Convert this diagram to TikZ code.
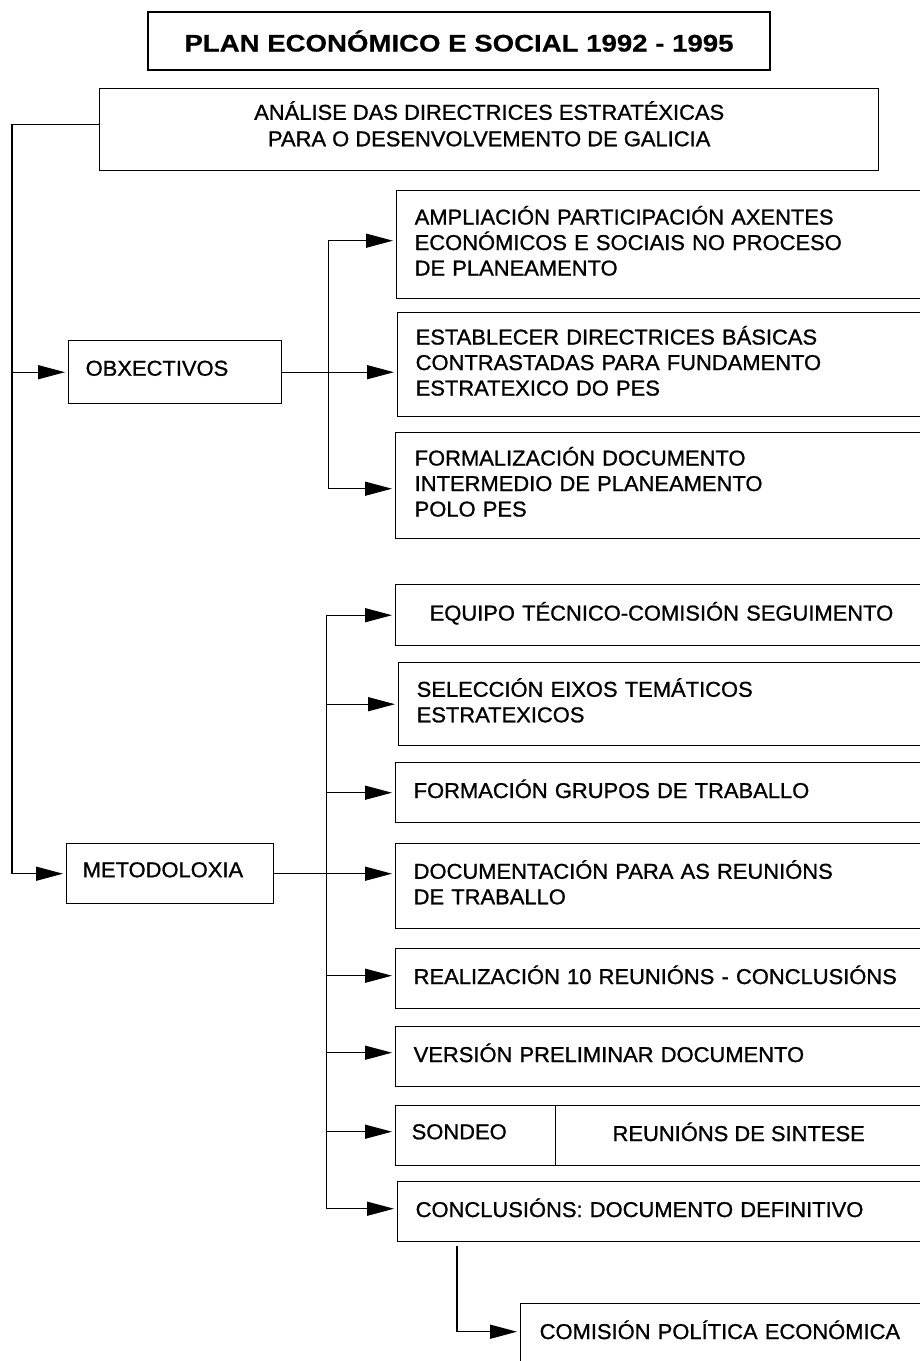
\documentclass[tikz,border=0pt]{standalone}
\usepackage{fontspec}
\setmainfont{Liberation Sans}
\newfontfamily\bodyf{Liberation Sans}[FakeStretch=1.02,FakeBold=1]
\newfontfamily\titf{Liberation Sans Bold}[FakeStretch=1.15,FakeBold=0.6]
\usetikzlibrary{arrows.meta}
\newcommand\lowr[1]{\rule[-#1pt]{0pt}{1pt}}
\tikzset{
  ln/.style={line width=1.4pt},
  arr/.style={ln, shorten >=3pt, -{Triangle[length=27pt,width=14pt]}},
  txt/.style={font=\bodyf\fontsize{21.5}{25.5}\selectfont},
  bx/.style={draw, ln, txt, anchor=north west, align=left, inner ysep=0pt},
}
\newcommand\mybox[7][18]{%
  \pgfmathsetmacro\bw{#5-#3}\pgfmathsetmacro\bh{#6-#4}\pgfmathsetmacro\tw{#5-#3-2*#1}%
  \node[bx, inner xsep=#1pt, minimum width=\bw pt, minimum height=\bh pt, text width=\tw pt] (#2) at (#3,#4) {#7\lowr{8}};}
\begin{document}
\begin{tikzpicture}[x=1pt,y=-1pt]
\useasboundingbox (0,0) rectangle (920,1361);
\clip (0,0) rectangle (920,1361);
\fill[white] (0,0) rectangle (920,1361);
% title
\node[draw, ln, minimum width=622pt, minimum height=58pt, inner sep=0pt,
  font=\titf\fontsize{24}{28}\selectfont] (title) at (459,41) {PLAN ECONÓMICO E SOCIAL 1992 - 1995};
% analysis box
\node[draw, ln, anchor=north west, minimum width=779pt, minimum height=82pt, inner sep=0pt, align=center,
  font=\bodyf\fontsize{21.5}{26.5}\selectfont] (ana) at (99,88) {ANÁLISE DAS DIRECTRICES ESTRATÉXICAS\\PARA O DESENVOLVEMENTO DE GALICIA\lowr{12}};
% left column
\mybox[17]{obx}{68}{340}{281}{403}{OBXECTIVOS}
\mybox[16]{meto}{66}{843}{273}{903}{METODOLOXIA}
% objectives
\mybox{a1}{396}{190}{940}{298}{AMPLIACIÓN PARTICIPACIÓN AXENTES\\ECONÓMICOS E SOCIAIS NO PROCESO\\DE PLANEAMENTO}
\mybox{a2}{397}{312}{940}{416}{ESTABLECER DIRECTRICES BÁSICAS\\CONTRASTADAS PARA FUNDAMENTO\\ESTRATEXICO DO PES}
\mybox[19]{a3}{395}{432}{940}{538}{FORMALIZACIÓN DOCUMENTO\\INTERMEDIO DE PLANEAMENTO\\POLO PES}
% methodology
\mybox[34]{b1}{395}{584}{940}{645}{EQUIPO TÉCNICO-COMISIÓN SEGUIMENTO}
\mybox{b2}{398}{662}{940}{745}{SELECCIÓN EIXOS TEMÁTICOS\\ESTRATEXICOS}
\mybox{b3}{395}{762}{940}{822}{FORMACIÓN GRUPOS DE TRABALLO}
\mybox{b4}{395}{843}{940}{928}{DOCUMENTACIÓN PARA AS REUNIÓNS\\DE TRABALLO}
\mybox{b5}{395}{948}{940}{1008}{REALIZACIÓN 10 REUNIÓNS - CONCLUSIÓNS}
\mybox{b6}{395}{1026}{940}{1086}{VERSIÓN PRELIMINAR DOCUMENTO}
\mybox[16]{b7a}{395}{1105}{555}{1165}{SONDEO}
\node[draw, ln, txt, anchor=north west, minimum width=366pt, minimum height=60pt, inner sep=0pt] (b7b) at (555,1105) {REUNIÓNS DE SINTESE\lowr{8}};
\mybox{b8}{397}{1181}{940}{1241}{CONCLUSIÓNS: DOCUMENTO DEFINITIVO}
\mybox[19]{com}{520}{1303}{940}{1363}{COMISIÓN POLÍTICA ECONÓMICA}
% connectors
\draw[arr] ([yshift=5pt]ana.west) -- ++(-87,0) |- (obx.west);
\draw[arr] ([yshift=5pt]ana.west) -- ++(-87,0) |- (meto.west);
\draw[arr] (obx.east) -- (a2.west |- obx.east);
\draw[arr] ([xshift=46pt]obx.east) |- ([yshift=4pt]a1.west);
\draw[arr] ([xshift=46pt]obx.east) |- ([yshift=-3pt]a3.west);
\draw[arr] (meto.east) -- (b4.west |- meto.east);
\draw[arr] ([xshift=52pt]meto.east) |- (b1.west);
\draw[arr] ([xshift=52pt]meto.east) |- (b2.west);
\draw[arr] ([xshift=52pt]meto.east) |- (b3.west);
\draw[arr] ([xshift=52pt]meto.east) |- ([yshift=3pt]b5.west);
\draw[arr] ([xshift=52pt]meto.east) |- ([yshift=4pt]b6.west);
\draw[arr] ([xshift=52pt]meto.east) |- ([yshift=4pt]b7a.west);
\draw[arr] ([xshift=52pt]meto.east) |- ([yshift=3pt]b8.west);
\draw[arr] ([xshift=60pt,yshift=-4pt]b8.south west) |- ([yshift=2pt]com.west);
\end{tikzpicture}
\end{document}
